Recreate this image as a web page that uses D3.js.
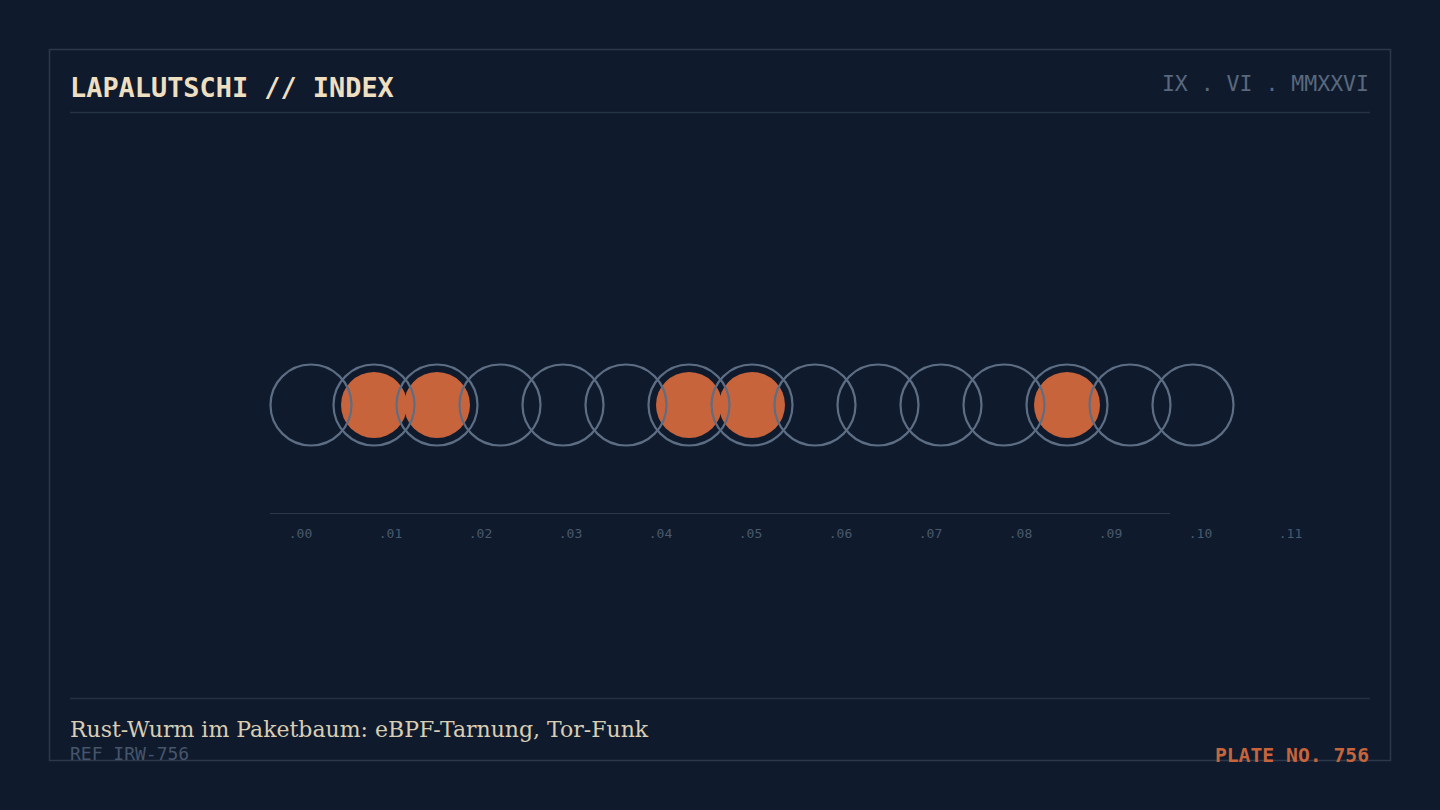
<!DOCTYPE html>
<html>
<head>
<meta charset="utf-8">
<script src="https://cdn.jsdelivr.net/npm/d3@7"></script>
<style>
  html, body { margin: 0; padding: 0; background: #0f1b2d; }
  svg { display: block; }
</style>
</head>
<body>
<svg id="plate"></svg>
<script>
// slot states, one per circle (1 = filled)
var slots = [0, 1, 1, 0, 0, 0, 1, 1, 0, 0, 0, 0, 1, 0, 0];
var tickValues = [0, 0.01, 0.02, 0.03, 0.04, 0.05, 0.06, 0.07, 0.08, 0.09, 0.10, 0.11];
var tickLabels = [".00", ".01", ".02", ".03", ".04", ".05", ".06", ".07", ".08", ".09", ".10", ".11"];

var title = "LAPALUTSCHI // INDEX";
var dateText = "IX . VI . MMXXVI";
var caption = "Rust-Wurm im Paketbaum: eBPF-Tarnung, Tor-Funk";
var ref = "REF IRW-756";
var plate = "PLATE NO. 756";

var width = 1440, height = 810;
var mono = "'DejaVu Sans Mono', 'Liberation Mono', monospace";
var serif = "'DejaVu Serif', 'Liberation Serif', serif";

var svg = d3.select("#plate")
    .attr("width", width)
    .attr("height", height);

svg.append("rect")
    .attr("width", width).attr("height", height)
    .attr("fill", "#0f1b2d");

// frame
svg.append("rect")
    .attr("x", 49.5).attr("y", 49.5)
    .attr("width", 1341).attr("height", 711)
    .attr("fill", "none")
    .attr("stroke", "#2c394c")
    .attr("stroke-width", 1.5);

// header
svg.append("text")
    .attr("x", 70).attr("y", 97)
    .attr("font-family", mono)
    .attr("font-weight", "bold")
    .attr("font-size", 26.9)
    .attr("fill", "#efdfc1")
    .text(title);

svg.append("text")
    .attr("x", 1369).attr("y", 91)
    .attr("text-anchor", "end")
    .attr("font-family", mono)
    .attr("font-size", 21.5)
    .attr("fill", "#5a687d")
    .text(dateText);

svg.append("line")
    .attr("x1", 70).attr("x2", 1370)
    .attr("y1", 112.5).attr("y2", 112.5)
    .attr("stroke", "#243246")
    .attr("stroke-width", 1.5);

// circles
var xSlot = d3.scaleLinear()
    .domain([0, slots.length - 1])
    .range([311, 1193]);
var cy = 405;

var g = svg.append("g");

g.selectAll("circle.fill")
    .data(slots.map(function (d, i) { return {v: d, i: i}; }).filter(function (d) { return d.v === 1; }))
    .enter()
    .append("circle")
    .attr("class", "fill")
    .attr("cx", function (d) { return xSlot(d.i); })
    .attr("cy", cy)
    .attr("r", 33)
    .attr("fill", "#c8643c");

g.selectAll("circle.ring")
    .data(slots)
    .enter()
    .append("circle")
    .attr("class", "ring")
    .attr("cx", function (d, i) { return xSlot(i); })
    .attr("cy", cy)
    .attr("r", 40.5)
    .attr("fill", "none")
    .attr("stroke", "#5d6d84")
    .attr("stroke-width", 2.2);

// axis
var xScale = d3.scaleLinear()
    .domain([0, 0.11])
    .range([300, 1290]);

svg.append("line")
    .attr("x1", 270).attr("x2", 1170)
    .attr("y1", 513.5).attr("y2", 513.5)
    .attr("stroke", "#2c394c")
    .attr("stroke-width", 1);

var axis = svg.append("g")
    .attr("transform", "translate(0,513)")
    .call(d3.axisBottom(xScale)
        .tickValues(tickValues)
        .tickSize(0)
        .tickPadding(16)
        .tickFormat(function (d, i) { return tickLabels[i]; }));

axis.select(".domain").remove();
axis.selectAll("text")
    .attr("font-family", mono)
    .attr("font-size", 13)
    .attr("fill", "#4a596e");

// footer
svg.append("line")
    .attr("x1", 70).attr("x2", 1370)
    .attr("y1", 698.5).attr("y2", 698.5)
    .attr("stroke", "#243246")
    .attr("stroke-width", 1.5);

svg.append("text")
    .attr("x", 70).attr("y", 737)
    .attr("font-family", serif)
    .attr("font-size", 22)
    .attr("fill", "#d9cdb4")
    .text(caption);

svg.append("text")
    .attr("x", 70).attr("y", 760)
    .attr("font-family", mono)
    .attr("font-size", 18)
    .attr("fill", "#46556b")
    .text(ref);

svg.append("text")
    .attr("x", 1369).attr("y", 762)
    .attr("text-anchor", "end")
    .attr("font-family", mono)
    .attr("font-weight", "bold")
    .attr("font-size", 19.7)
    .attr("fill", "#c8643c")
    .text(plate);
</script>
</body>
</html>
